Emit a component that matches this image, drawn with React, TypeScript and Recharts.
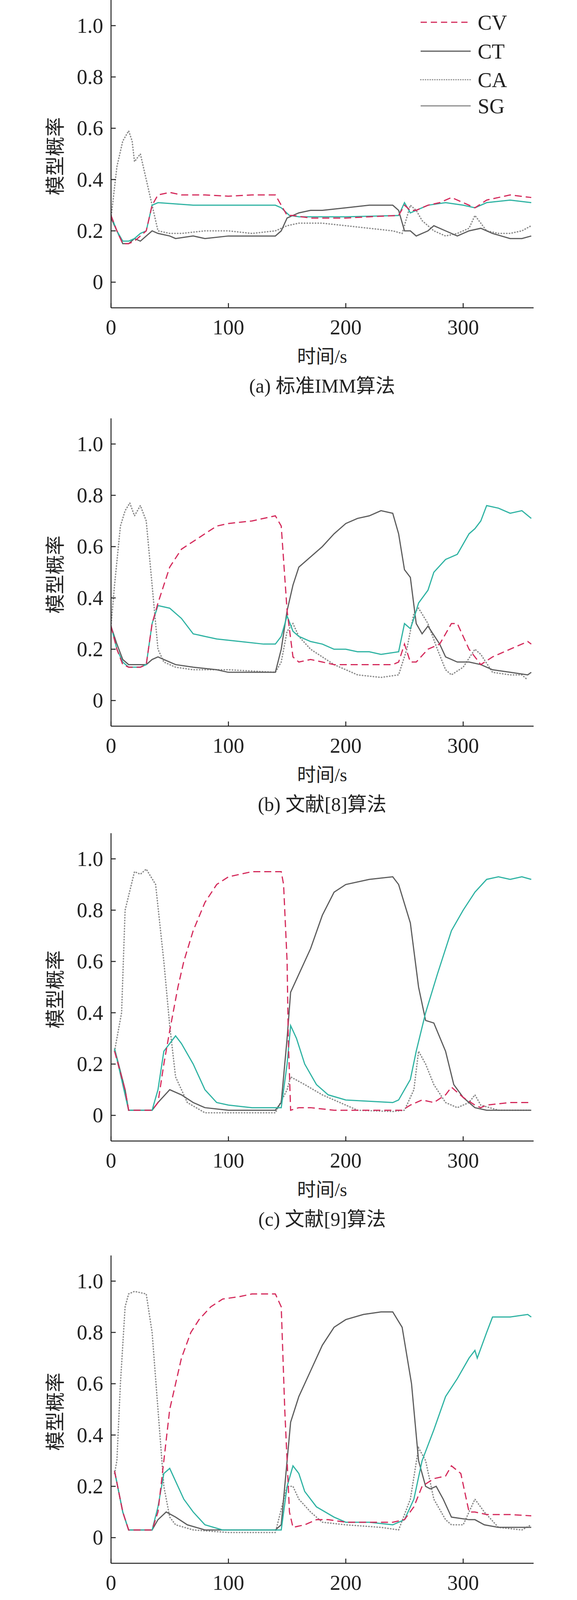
import React from 'react';
import { LineChart, Line, XAxis, YAxis } from 'recharts';

// ---- data: [time (s), model probability] ----
const A_CV = [[0,0.26],[5,0.2],[10,0.15],[15,0.15],[20,0.16],[25,0.18],[30,0.2],[35,0.3],[40,0.34],[50,0.35],[60,0.34],[80,0.34],[100,0.335],[120,0.34],[140,0.34],[145,0.3],[150,0.26],[155,0.26],[170,0.25],[200,0.25],[220,0.255],[245,0.26],[250,0.3],[255,0.28],[260,0.28],[270,0.3],[280,0.31],[290,0.33],[300,0.31],[310,0.29],[320,0.32],[330,0.33],[340,0.34],[358,0.33]];
const A_CT = [[0,0.25],[5,0.2],[10,0.15],[15,0.15],[20,0.17],[25,0.16],[30,0.18],[35,0.2],[40,0.19],[50,0.18],[55,0.17],[70,0.18],[80,0.17],[100,0.18],[120,0.18],[140,0.18],[145,0.2],[150,0.25],[160,0.27],[170,0.28],[180,0.28],[200,0.29],[220,0.3],[240,0.3],[245,0.28],[250,0.2],[255,0.2],[260,0.18],[270,0.2],[275,0.22],[285,0.2],[295,0.18],[305,0.2],[315,0.21],[325,0.19],[340,0.17],[350,0.17],[358,0.18]];
const A_CA = [[0,0.25],[5,0.45],[10,0.55],[15,0.59],[18,0.55],[20,0.47],[25,0.5],[30,0.4],[35,0.3],[40,0.2],[50,0.19],[60,0.19],[80,0.2],[100,0.2],[120,0.19],[140,0.2],[150,0.22],[160,0.23],[180,0.23],[200,0.22],[220,0.21],[240,0.2],[248,0.19],[255,0.3],[260,0.28],[265,0.24],[275,0.2],[285,0.18],[295,0.19],[305,0.21],[310,0.26],[320,0.2],[330,0.19],[340,0.19],[350,0.2],[358,0.22]];
const A_SG = [[0,0.26],[5,0.2],[10,0.16],[15,0.16],[20,0.17],[25,0.19],[30,0.2],[35,0.3],[40,0.31],[55,0.305],[70,0.3],[100,0.3],[120,0.3],[140,0.3],[145,0.29],[152,0.26],[160,0.255],[200,0.255],[245,0.26],[250,0.31],[255,0.27],[260,0.28],[270,0.3],[285,0.31],[300,0.3],[310,0.29],[320,0.31],[340,0.32],[358,0.31]];

const B_CV = [[0,0.29],[5,0.2],[10,0.14],[15,0.13],[25,0.13],[30,0.14],[35,0.3],[40,0.38],[45,0.45],[50,0.52],[60,0.59],[70,0.62],[80,0.65],[90,0.68],[100,0.69],[120,0.7],[140,0.72],[145,0.68],[150,0.35],[155,0.17],[160,0.15],[170,0.16],[180,0.15],[190,0.14],[240,0.14],[245,0.15],[250,0.22],[255,0.15],[260,0.15],[270,0.2],[280,0.22],[290,0.3],[295,0.3],[305,0.2],[315,0.14],[325,0.17],[335,0.19],[345,0.21],[355,0.23],[358,0.22]];
const B_CT = [[0,0.29],[5,0.22],[10,0.16],[15,0.14],[25,0.14],[30,0.14],[35,0.16],[40,0.17],[45,0.16],[55,0.14],[70,0.13],[90,0.12],[100,0.11],[140,0.11],[145,0.2],[150,0.35],[155,0.45],[160,0.52],[170,0.56],[180,0.6],[190,0.65],[200,0.69],[210,0.71],[220,0.72],[230,0.74],[240,0.73],[245,0.65],[250,0.51],[255,0.48],[260,0.3],[265,0.26],[270,0.29],[280,0.22],[285,0.17],[295,0.15],[305,0.15],[315,0.14],[325,0.12],[340,0.11],[355,0.1],[358,0.11]];
const B_CA = [[0,0.29],[3,0.45],[8,0.68],[12,0.74],[16,0.77],[20,0.72],[25,0.76],[30,0.7],[35,0.45],[40,0.2],[45,0.15],[55,0.13],[70,0.12],[100,0.12],[140,0.11],[145,0.15],[150,0.27],[155,0.3],[160,0.25],[170,0.2],[180,0.17],[190,0.14],[200,0.12],[210,0.1],[230,0.09],[245,0.1],[252,0.2],[258,0.34],[262,0.36],[270,0.3],[278,0.2],[285,0.12],[290,0.1],[300,0.13],[310,0.2],[315,0.18],[325,0.11],[340,0.1],[350,0.1],[355,0.08]];
const B_SG = [[0,0.29],[5,0.2],[10,0.15],[15,0.13],[25,0.13],[30,0.14],[35,0.3],[40,0.37],[50,0.36],[60,0.32],[70,0.26],[80,0.25],[90,0.24],[110,0.23],[130,0.22],[140,0.22],[145,0.25],[150,0.33],[155,0.27],[160,0.25],[170,0.23],[180,0.22],[190,0.2],[200,0.2],[210,0.19],[220,0.19],[230,0.18],[245,0.19],[250,0.3],[255,0.28],[258,0.32],[262,0.38],[270,0.43],[275,0.5],[285,0.55],[295,0.57],[305,0.65],[310,0.67],[315,0.7],[320,0.76],[330,0.75],[340,0.73],[350,0.74],[358,0.71]];

const C_CV = [[3,0.25],[12,0.1],[15,0.02],[35,0.02],[40,0.05],[45,0.2],[50,0.33],[57,0.5],[62,0.6],[70,0.72],[80,0.83],[90,0.9],[100,0.93],[110,0.94],[120,0.95],[145,0.95],[147,0.9],[150,0.6],[151,0.3],[153,0.02],[160,0.03],[170,0.03],[190,0.02],[240,0.02],[248,0.02],[255,0.04],[265,0.06],[275,0.05],[285,0.08],[290,0.11],[300,0.07],[310,0.04],[315,0.03],[320,0.04],[340,0.05],[358,0.05]];
const C_CT = [[3,0.26],[12,0.1],[15,0.02],[35,0.02],[40,0.05],[50,0.1],[60,0.08],[70,0.05],[80,0.03],[100,0.02],[140,0.02],[145,0.05],[150,0.3],[153,0.48],[160,0.55],[170,0.65],[180,0.78],[190,0.87],[200,0.9],[220,0.92],[240,0.93],[245,0.9],[255,0.75],[262,0.5],[268,0.37],[275,0.36],[285,0.25],[292,0.12],[300,0.07],[310,0.03],[320,0.02],[358,0.02]];
const C_CA = [[3,0.25],[9,0.4],[12,0.8],[20,0.95],[25,0.94],[30,0.96],[38,0.9],[45,0.6],[50,0.35],[55,0.15],[65,0.05],[80,0.01],[140,0.01],[150,0.1],[153,0.15],[165,0.12],[180,0.08],[200,0.04],[210,0.02],[240,0.015],[250,0.02],[258,0.1],[262,0.25],[268,0.2],[275,0.12],[285,0.05],[295,0.03],[305,0.05],[310,0.08],[315,0.04],[330,0.02],[358,0.02]];
const C_SG = [[3,0.26],[12,0.08],[15,0.02],[35,0.02],[40,0.1],[45,0.25],[55,0.31],[60,0.28],[70,0.2],[80,0.1],[90,0.05],[100,0.04],[120,0.03],[145,0.03],[150,0.2],[153,0.35],[158,0.3],[165,0.2],[175,0.12],[185,0.08],[200,0.06],[220,0.055],[240,0.05],[245,0.06],[255,0.14],[260,0.25],[268,0.4],[278,0.55],[290,0.72],[300,0.8],[310,0.87],[320,0.92],[330,0.93],[340,0.92],[350,0.93],[358,0.92]];

const D_CV = [[3,0.26],[10,0.1],[15,0.03],[35,0.03],[40,0.1],[45,0.3],[50,0.5],[55,0.6],[60,0.7],[68,0.8],[75,0.85],[85,0.9],[95,0.93],[110,0.94],[120,0.95],[140,0.95],[145,0.9],[148,0.5],[152,0.1],[155,0.04],[165,0.05],[175,0.07],[185,0.07],[200,0.06],[240,0.06],[250,0.07],[258,0.12],[265,0.2],[275,0.23],[285,0.24],[290,0.28],[298,0.25],[305,0.1],[310,0.1],[320,0.09],[340,0.09],[358,0.085]];
const D_CT = [[3,0.26],[10,0.1],[15,0.03],[35,0.03],[40,0.07],[47,0.1],[55,0.08],[65,0.05],[80,0.03],[140,0.03],[145,0.05],[150,0.3],[153,0.45],[160,0.55],[170,0.65],[180,0.75],[190,0.82],[200,0.85],[215,0.87],[230,0.88],[240,0.88],[248,0.82],[256,0.6],[262,0.3],[268,0.2],[272,0.19],[277,0.2],[283,0.15],[290,0.08],[305,0.07],[310,0.07],[318,0.05],[330,0.04],[358,0.04]];
const D_CA = [[3,0.25],[5,0.3],[8,0.6],[12,0.9],[15,0.95],[20,0.96],[30,0.95],[35,0.8],[40,0.5],[45,0.2],[50,0.08],[55,0.05],[70,0.03],[100,0.02],[140,0.02],[150,0.2],[155,0.2],[160,0.15],[170,0.1],[180,0.06],[200,0.05],[230,0.04],[245,0.03],[255,0.15],[262,0.35],[268,0.3],[275,0.15],[285,0.07],[290,0.05],[300,0.05],[310,0.15],[318,0.1],[330,0.04],[350,0.03],[358,0.05]];
const D_SG = [[3,0.26],[10,0.1],[15,0.03],[35,0.03],[40,0.12],[45,0.25],[50,0.27],[55,0.22],[62,0.15],[70,0.1],[80,0.05],[95,0.03],[145,0.03],[150,0.2],[155,0.28],[160,0.25],[165,0.18],[175,0.12],[190,0.08],[200,0.06],[220,0.06],[240,0.05],[250,0.07],[258,0.15],[265,0.3],[275,0.42],[285,0.55],[295,0.62],[305,0.7],[310,0.73],[312,0.7],[320,0.8],[325,0.86],[340,0.86],[355,0.87],[358,0.86]];

const X_TICKS = [0, 100, 200, 300];
const Y_TICKS = [0, 0.2, 0.4, 0.6, 0.8, 1.0];
const CAPTIONS = ['(a) 标准IMM算法', '(b) 文献[8]算法', '(c) 文献[9]算法', '(d) 文中算法'];
const PANELS = [
  { cv: A_CV, ct: A_CT, ca: A_CA, sg: A_SG },
  { cv: B_CV, ct: B_CT, ca: B_CA, sg: B_SG },
  { cv: C_CV, ct: C_CT, ca: C_CA, sg: C_SG },
  { cv: D_CV, ct: D_CT, ca: D_CA, sg: D_SG },
];
const PANEL_TOPS = [0, 1071, 2133, 3214];

const SERIF = '"Liberation Serif", "Noto Sans CJK SC", serif';
const CV_COLOR = '#d42a5b';
const CT_COLOR = '#5c5c5c';
const CA_COLOR = '#8c8c8c';
const SG_COLOR = '#2fb3a3';

const toPts = (arr: number[][]) => arr.map(([t, v]) => ({ t, v }));

function YTick({ x, y, payload }: any) {
  return (
    <g>
      <line x1={x} x2={x + 12} y1={y} y2={y} stroke="#222" strokeWidth={2.5} />
      <text x={x - 20} y={y + 18} textAnchor="end" fontSize={54} fontFamily={SERIF} fill="#222">
        {payload.value === 0 ? '0' : payload.value.toFixed(1)}
      </text>
    </g>
  );
}

function XTick({ x, y, payload }: any) {
  return (
    <g>
      <line x1={x} x2={x} y1={y} y2={y - 12} stroke="#222" strokeWidth={2.5} />
      <text x={x} y={y + 68} textAnchor="middle" fontSize={54} fontFamily={SERIF} fill="#222">
        {payload.value}
      </text>
    </g>
  );
}

function Legend() {
  const rows = [
    { name: 'CV', color: CV_COLOR, dash: '16 10', cap: 'butt' },
    { name: 'CT', color: CT_COLOR, dash: undefined, cap: 'butt' },
    { name: 'CA', color: CA_COLOR, dash: '1 5', cap: 'round' },
    { name: 'SG', color: '#8a8a8a', dash: undefined, cap: 'butt' },
  ];
  const ys = [57, 131, 204, 271];
  return (
    <svg width={300} height={320} style={{ position: 'absolute', left: 1070, top: 0 }}>
      {rows.map((r, i) => (
        <g key={r.name}>
          <line x1={6} x2={134} y1={ys[i]} y2={ys[i]} stroke={r.color} strokeWidth={3}
            strokeDasharray={r.dash} strokeLinecap={r.cap as any} />
          <text x={152} y={ys[i] + 19} fontSize={54} fontFamily={SERIF} fill="#222">{r.name}</text>
        </g>
      ))}
    </svg>
  );
}

function Panel({ idx }: { idx: number }) {
  const p = PANELS[idx];
  return (
    <div style={{ position: 'absolute', left: 0, top: PANEL_TOPS[idx], width: 1476, height: 1010 }}>
      <LineChart width={1476} height={1000} margin={{ top: 0, right: 111, bottom: 0, left: 0 }}>
        <XAxis dataKey="t" type="number" domain={[0, 360]} ticks={X_TICKS} allowDataOverflow
          height={212} tickSize={0} tickMargin={0} tick={<XTick />} stroke="#222" strokeWidth={2.5} />
        <YAxis dataKey="v" type="number" domain={[-0.1, 1.1]} ticks={Y_TICKS} allowDataOverflow
          width={284} tickSize={0} tickMargin={0} tick={<YTick />} stroke="#222" strokeWidth={2.5} />
        <Line data={toPts(p.ca)} dataKey="v" stroke={CA_COLOR} strokeWidth={3.5} strokeDasharray="1 6"
          strokeLinecap="round" dot={false} isAnimationActive={false} />
        <Line data={toPts(p.ct)} dataKey="v" stroke={CT_COLOR} strokeWidth={3} dot={false} isAnimationActive={false} />
        <Line data={toPts(p.sg)} dataKey="v" stroke={SG_COLOR} strokeWidth={3} dot={false} isAnimationActive={false} />
        <Line data={toPts(p.cv)} dataKey="v" stroke={CV_COLOR} strokeWidth={3} strokeDasharray="18 10"
          dot={false} isAnimationActive={false} />
      </LineChart>
      {idx === 0 && <Legend />}
      <div style={{ position: 'absolute', left: 137, top: 400, transform: 'translate(-50%, -50%) rotate(-90deg)',
        fontFamily: SERIF, fontSize: 50, color: '#222', whiteSpace: 'nowrap' }}>模型概率</div>
      <div style={{ position: 'absolute', left: 824, top: 908, transform: 'translate(-50%, -50%)',
        fontFamily: SERIF, fontSize: 48, color: '#222', whiteSpace: 'nowrap' }}>时间/s</div>
      <div style={{ position: 'absolute', left: 824, top: 983, transform: 'translate(-50%, -50%)',
        fontFamily: SERIF, fontSize: 50, color: '#222', whiteSpace: 'nowrap' }}>{CAPTIONS[idx]}</div>
    </div>
  );
}

export default function App() {
  return (
    <div style={{ position: 'absolute', left: 0, top: 0, width: 1476, height: 4231, background: '#fff', overflow: 'hidden' }}>
      {PANELS.map((_, i) => <Panel key={i} idx={i} />)}
    </div>
  );
}
